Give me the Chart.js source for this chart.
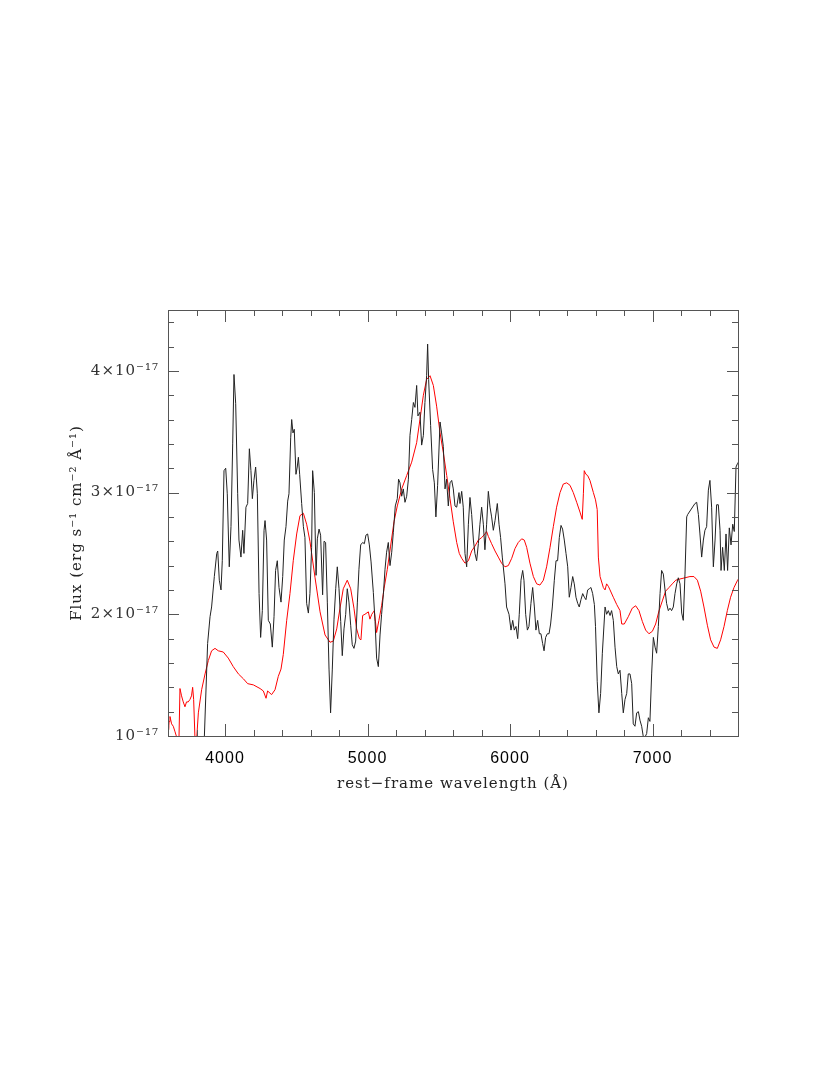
<!DOCTYPE html>
<html>
<head>
<meta charset="utf-8">
<script src="https://cdn.jsdelivr.net/npm/chart.js"></script>
<style>
  html, body { margin: 0; padding: 0; background: #fff; }
  canvas { display: block; }
</style>
</head>
<body>
<canvas id="spec" width="830" height="1075"></canvas>
<script>
// observed spectrum (black), flux in units of 1e-17
const obsWave = [3840,3855,3878,3895,3906,3925,3942,3949,3960,3972,3981,3993,4005,4016,4030,4042,4054,4063,4075,4089,
  4098,4112,4124,4133,4147,4159,4171,4182,4192,4203,4215,4227,4239,4250,4262,4274,4281,4292,4304,4318,
  4332,4344,4355,4367,4379,4393,4405,4416,4428,4440,4449,4461,4468,4477,4486,4498,4507,4515,4524,4538,
  4550,4561,4573,4585,4596,4608,4615,4627,4639,4648,4660,4671,4685,4695,4706,4718,4730,4741,4753,4765,
  4777,4788,4800,4812,4823,4835,4847,4858,4870,4882,4893,4905,4917,4929,4940,4952,4966,4978,4989,5001,
  5013,5025,5041,5053,5064,5076,5088,5099,5111,5123,5134,5146,5158,5170,5181,5195,5209,5218,5228,5240,
  5251,5263,5275,5287,5298,5310,5322,5333,5345,5354,5368,5380,5392,5403,5415,5422,5429,5443,5457,5469,
  5480,5492,5509,5520,5532,5544,5555,5567,5579,5591,5602,5614,5626,5642,5649,5661,5672,5684,5696,5708,
  5719,5731,5743,5754,5766,5778,5789,5801,5813,5824,5836,5848,5860,5871,5883,5895,5911,5923,5934,5946,
  5965,5976,5993,6007,6019,6030,6042,6054,6065,6077,6089,6098,6110,6122,6133,6147,6159,6171,6182,6194,
  6206,6217,6229,6239,6250,6262,6274,6285,6297,6311,6323,6334,6346,6358,6369,6381,6393,6405,6416,6428,
  6440,6451,6463,6475,6486,6498,6510,6522,6533,6545,6557,6568,6580,6592,6600,6612,6624,6636,6648,6667,
  6678,6690,6702,6713,6725,6737,6749,6760,6772,6784,6795,6807,6819,6830,6842,6854,6865,6877,6889,6901,
  6912,6924,6936,6947,6959,6971,6982,6994,7006,7018,7029,7041,7053,7064,7076,7088,7099,7111,7123,7134,
  7146,7158,7170,7181,7193,7205,7216,7228,7240,7247,7298,7310,7322,7333,7345,7357,7368,7380,7392,7403,
  7415,7427,7439,7450,7462,7474,7481,7492,7504,7516,7527,7539,7551,7563,7574,7586,7597,7610];
const obsFlux = [0.90,0.99,1.76,1.98,2.06,2.31,2.50,2.52,2.28,2.20,2.44,3.18,3.20,2.99,2.39,2.72,3.40,3.97,3.73,2.99,
  2.61,2.47,2.69,2.50,2.88,2.91,3.36,3.18,2.95,3.10,3.21,2.99,2.17,1.81,2.03,2.69,2.77,2.61,1.95,1.92,
  1.73,1.98,2.36,2.44,2.22,2.10,2.31,2.61,2.72,2.93,2.99,3.45,3.60,3.49,3.52,3.15,3.21,3.29,3.15,2.91,
  2.72,2.63,2.09,2.01,2.17,2.55,3.18,3.00,2.32,2.62,2.70,2.65,2.16,2.60,2.59,2.10,1.55,1.19,1.55,1.96,
  2.21,2.39,2.21,1.94,1.66,1.88,2.00,2.21,2.10,1.91,1.75,1.72,1.78,2.10,2.37,2.57,2.59,2.58,2.65,2.66,
  2.57,2.43,2.18,1.94,1.64,1.57,1.83,2.00,2.16,2.37,2.51,2.59,2.40,2.51,2.67,2.89,2.95,3.11,3.08,2.97,
  3.03,2.92,2.97,3.11,3.47,3.60,3.74,3.70,3.88,3.63,3.66,3.39,3.47,3.74,3.96,4.22,3.93,3.55,3.19,3.08,
  2.80,3.06,3.58,3.49,3.38,3.03,3.11,2.89,3.08,3.10,3.03,2.89,2.88,3.00,2.91,3.01,2.88,2.50,2.39,2.74,
  2.96,2.82,2.61,2.50,2.44,2.58,2.74,2.88,2.74,2.53,2.74,3.01,2.88,2.80,2.69,2.77,2.91,2.74,2.63,2.47,
  2.25,2.06,2.00,1.87,1.95,1.87,1.90,1.80,2.00,2.28,2.36,2.28,2.00,1.87,1.90,2.09,2.22,2.06,1.87,1.95,
  1.84,1.84,1.76,1.70,1.81,1.84,1.84,1.92,2.06,2.28,2.44,2.44,2.63,2.73,2.70,2.61,2.50,2.39,2.14,2.22,
  2.31,2.25,2.14,2.09,2.06,2.12,2.17,2.14,2.12,2.20,2.21,2.22,2.17,2.08,1.90,1.45,1.19,1.35,1.68,2.06,
  2.00,2.03,1.99,2.03,1.95,1.73,1.57,1.51,1.54,1.35,1.19,1.30,1.35,1.51,1.51,1.43,1.10,1.08,1.19,1.20,
  1.13,1.08,0.99,0.99,1.02,1.15,1.12,1.51,1.81,1.73,1.68,1.90,2.17,2.36,2.33,2.20,2.09,2.03,2.05,2.03,
  2.06,2.17,2.25,2.30,2.25,2.01,1.95,2.33,2.80,2.82,2.91,2.92,2.82,2.66,2.47,2.61,2.69,2.72,3.02,3.10,
  2.88,2.39,2.61,2.90,2.90,2.69,2.36,2.55,2.36,2.66,2.36,2.71,2.57,2.74,2.68,3.21,3.24,3.26];

// model spectrum (red)
const modelWave = [3600,3604,3608,3614,3625,3637,3648,3661,3668,3676,3684,3695,3707,3719,3730,3742,3754,3765,3773,3780,
  3789,3798,3813,3836,3860,3883,3906,3930,3953,3988,4023,4058,4094,4129,4159,4199,4246,4269,4288,4299,
  4327,4351,4374,4393,4409,4433,4456,4479,4503,4526,4550,4573,4596,4632,4667,4702,4737,4760,4784,4807,
  4830,4858,4882,4905,4924,4943,4954,4966,4982,5006,5017,5030,5048,5064,5080,5099,5116,5139,5162,5186,
  5209,5240,5275,5310,5345,5368,5392,5415,5439,5462,5485,5509,5532,5556,5579,5602,5626,5644,5661,5684,
  5708,5731,5754,5778,5801,5824,5836,5848,5871,5895,5918,5941,5965,5988,6012,6035,6058,6082,6100,6117,
  6140,6164,6187,6210,6234,6257,6281,6304,6327,6351,6374,6398,6421,6444,6468,6491,6507,6515,6521,6533,
  6545,6561,6585,6600,6612,6620,6632,6655,6667,6678,6690,6702,6725,6749,6772,6784,6802,6830,6858,6882,
  6905,6929,6952,6975,6999,7022,7046,7069,7092,7116,7139,7163,7193,7228,7263,7291,7315,7338,7361,7385,
  7408,7432,7455,7478,7502,7525,7548,7572,7597,7610];
const modelFlux = [1.08,1.05,1.12,1.16,1.10,1.08,1.04,0.99,0.90,0.92,1.39,1.33,1.28,1.24,1.28,1.28,1.30,1.33,1.40,1.30,
  0.99,0.92,1.19,1.38,1.51,1.62,1.70,1.72,1.70,1.69,1.64,1.57,1.51,1.47,1.43,1.42,1.39,1.37,1.31,1.37,
  1.34,1.38,1.49,1.55,1.67,1.95,2.17,2.44,2.66,2.81,2.83,2.74,2.60,2.30,2.02,1.83,1.77,1.78,1.88,2.05,
  2.21,2.28,2.21,2.05,1.88,1.80,1.79,1.99,2.00,2.02,1.96,2.00,2.03,1.85,1.95,2.07,2.21,2.37,2.56,2.76,
  2.89,3.03,3.14,3.25,3.41,3.60,3.80,3.93,3.96,3.88,3.71,3.49,3.33,3.14,2.95,2.76,2.59,2.50,2.46,2.42,
  2.44,2.52,2.56,2.61,2.63,2.66,2.68,2.64,2.58,2.52,2.47,2.42,2.39,2.40,2.46,2.54,2.59,2.62,2.61,2.55,
  2.42,2.31,2.25,2.24,2.28,2.39,2.55,2.72,2.88,3.00,3.07,3.08,3.06,3.00,2.92,2.84,2.78,2.99,3.18,3.15,
  3.14,3.10,3.00,2.94,2.86,2.47,2.31,2.22,2.20,2.25,2.23,2.20,2.14,2.08,2.03,1.92,1.92,1.98,2.05,2.07,
  2.03,1.94,1.87,1.84,1.86,1.92,2.03,2.11,2.19,2.22,2.25,2.28,2.29,2.30,2.31,2.31,2.28,2.19,2.06,1.91,
  1.79,1.73,1.72,1.79,1.90,2.03,2.14,2.22,2.28,2.30];

const xMajorTicks = [4000, 5000, 6000, 7000];
const yMajorTicks = [1, 2, 3, 4];
const xRange = [3600, 7600];
const yRange = [1, 4.5];

const toXY = (w, f) => w.map((v, i) => ({x: v, y: f[i]}));

const supers = {'-': '\u207B', '0': '\u2070', '1': '\u00B9', '2': '\u00B2', '3': '\u00B3', '4': '\u2074',
  '5': '\u2075', '6': '\u2076', '7': '\u2077', '8': '\u2078', '9': '\u2079'};
const sup = s => s.split('').map(c => supers[c] || c).join('');
const fluxLabel = v => (v === 1 ? '' : v + '\u00D7') + '10' + sup('-17');

// frame + inward ticks on all four sides
const frameTicks = {
  id: 'frameTicks',
  beforeDraw(chart) {
    chart.ctx.letterSpacing = '1px';
  },
  afterDraw(chart) {
    const {ctx, chartArea: a, scales: {x, y}} = chart;
    ctx.save();
    ctx.strokeStyle = '#555';
    ctx.lineWidth = 1;
    ctx.strokeRect(a.left + 0.5, a.top + 0.5, a.right - a.left, a.bottom - a.top);
    ctx.beginPath();
    for (let w = xRange[0]; w <= xRange[1]; w += 200) {
      const px = Math.round(x.getPixelForValue(w)) + 0.5;
      const len = w % 1000 === 0 ? 12 : 6;
      ctx.moveTo(px, a.bottom); ctx.lineTo(px, a.bottom - len);
      ctx.moveTo(px, a.top); ctx.lineTo(px, a.top + len);
    }
    for (let k = 0; k <= 17; k++) {
      const v = 1 + k * 0.2;
      const py = Math.round(y.getPixelForValue(v)) + 0.5;
      const len = Math.abs(v - Math.round(v)) < 1e-6 ? 11 : 6;
      ctx.moveTo(a.left, py); ctx.lineTo(a.left + len, py);
      ctx.moveTo(a.right, py); ctx.lineTo(a.right - len, py);
    }
    ctx.stroke();
    ctx.restore();
  }
};

new Chart(document.getElementById('spec'), {
  type: 'line',
  data: {
    datasets: [
      {data: toXY(obsWave, obsFlux), borderColor: '#222', borderWidth: 1, pointRadius: 0, tension: 0},
      {data: toXY(modelWave, modelFlux), borderColor: '#ff0000', borderWidth: 1, pointRadius: 0, tension: 0}
    ]
  },
  options: {
    responsive: false,
    animation: false,
    devicePixelRatio: 1,
    layout: {padding: {left: 0, top: 310, right: 92, bottom: 269}},
    plugins: {legend: {display: false}, tooltip: {enabled: false}},
    scales: {
      x: {
        type: 'linear', min: xRange[0], max: xRange[1],
        afterBuildTicks: s => { s.ticks = xMajorTicks.map(v => ({value: v})); },
        afterFit: s => { s.height = 70; },
        grid: {display: false, drawTicks: false},
        border: {display: false},
        ticks: {color: '#000', padding: 13, font: {family: 'Liberation Sans', size: 16}, callback: v => String(v)},
        title: {display: true, text: 'rest\u2212frame wavelength (\u00C5)', color: '#222',
          font: {family: 'DejaVu Serif', size: 15}, padding: {top: 0, bottom: 13}}
      },
      y: {
        type: 'linear', min: yRange[0], max: yRange[1],
        afterBuildTicks: s => { s.ticks = yMajorTicks.map(v => ({value: v})); },
        afterFit: s => { s.width = 168; },
        grid: {display: false, drawTicks: false},
        border: {display: false},
        ticks: {color: '#333', padding: 9, font: {family: 'DejaVu Serif', size: 15}, callback: fluxLabel},
        title: {display: true, text: 'Flux (erg s' + sup('-1') + ' cm' + sup('-2') + ' \u00C5' + sup('-1') + ')',
          color: '#222', font: {family: 'DejaVu Serif', size: 15}, padding: {top: 68, bottom: 0}}
      }
    }
  },
  plugins: [frameTicks]
});
</script>
</body>
</html>
